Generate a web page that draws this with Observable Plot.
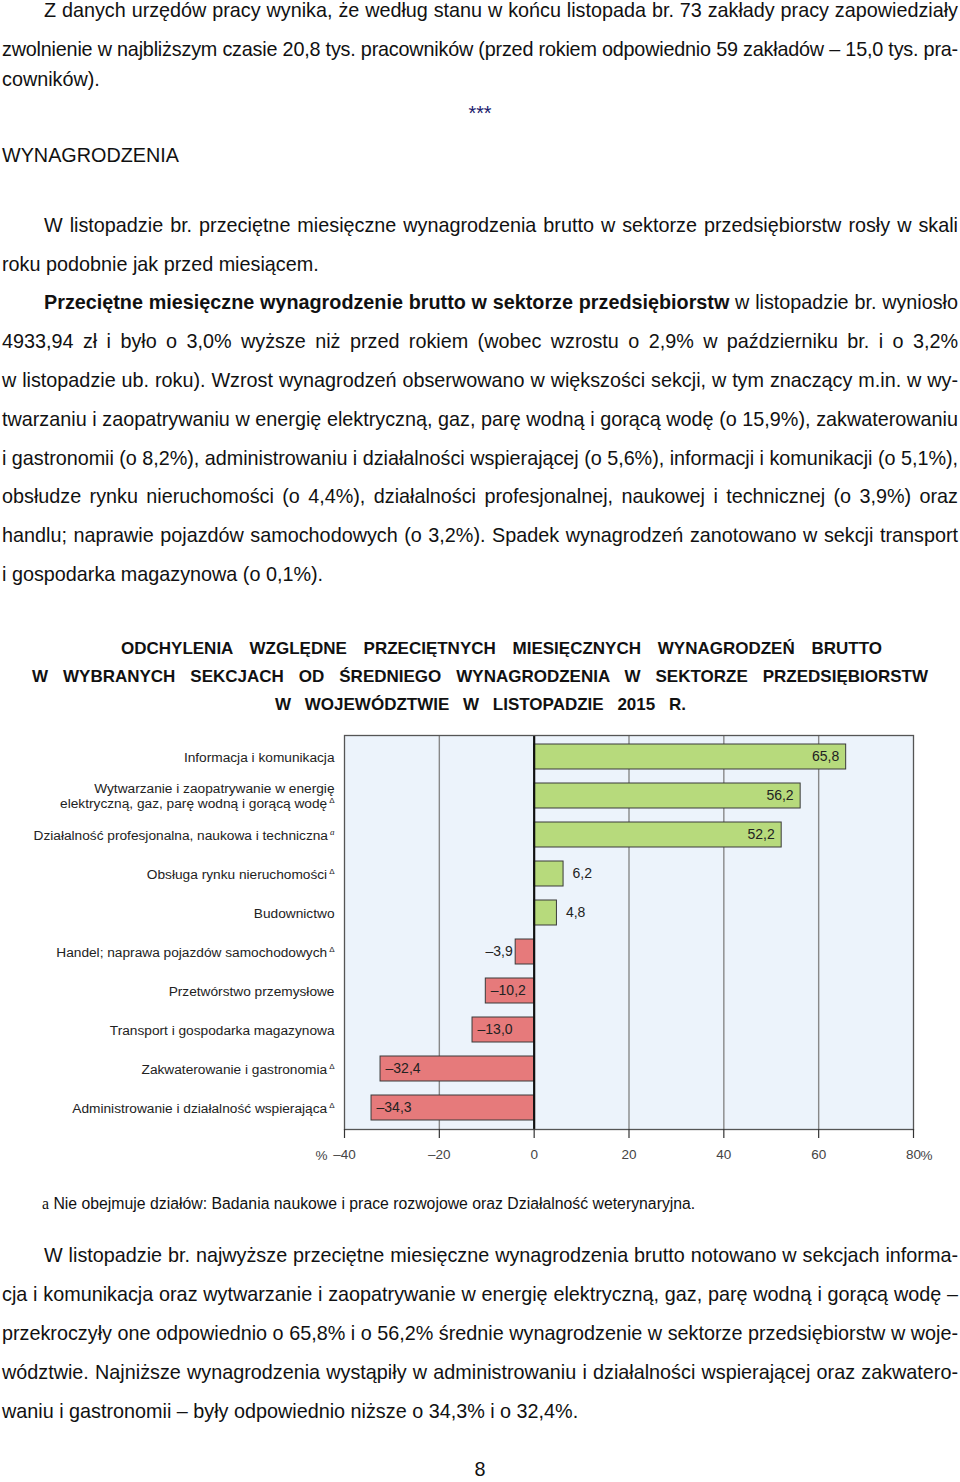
<!DOCTYPE html>
<html><head><meta charset="utf-8">
<script src="https://cdn.jsdelivr.net/npm/d3@7"></script>
<script src="https://cdn.jsdelivr.net/npm/@observablehq/plot@0.6"></script>
<style>
html,body{margin:0;padding:0;background:#fff;}
#page{position:relative;width:960px;height:1482px;overflow:hidden;font-family:"Liberation Sans",Arial,sans-serif;color:#111;}
.ln{position:absolute;white-space:nowrap;font-size:19.8px;line-height:22px;}
.tt{font-size:17px;font-weight:bold;}
.fn{font-size:15.8px;}
#chart{position:absolute;left:0;top:725px;}
</style></head>
<body><div id="page"><div id="chart"></div></div>
<script>
// ---- chart data ----
const categories = [
  "Informacja i komunikacja",
  "Wytwarzanie i zaopatrywanie w energię\nelektryczną, gaz, parę wodną i gorącą wodę",
  "Działalność profesjonalna, naukowa i techniczna",
  "Obsługa rynku nieruchomości",
  "Budownictwo",
  "Handel; naprawa pojazdów samochodowych",
  "Przetwórstwo przemysłowe",
  "Transport i gospodarka magazynowa",
  "Zakwaterowanie i gastronomia",
  "Administrowanie i działalność wspierająca"
];
const markers = ["", "Δ", "a", "Δ", "", "Δ", "", "", "Δ", "Δ"];
const deviations = [65.8, 56.2, 52.2, 6.2, 4.8, -3.9, -10.2, -13.0, -32.4, -34.3];
const xTicks = [-40, -20, 0, 20, 40, 60, 80];
const gridValues = [-20, 20, 40, 60];
const unitLabel = "%";

const titleLines = [
  "ODCHYLENIA WZGLĘDNE PRZECIĘTNYCH MIESIĘCZNYCH WYNAGRODZEŃ BRUTTO",
  "W WYBRANYCH SEKCJACH OD ŚREDNIEGO WYNAGRODZENIA W SEKTORZE PRZEDSIĘBIORSTW",
  "W WOJEWÓDZTWIE W LISTOPADZIE 2015 R."
];

// ---- page text ----
const page = document.getElementById("page");
function addLine(o){
  const div = document.createElement("div");
  div.className = "ln" + (o.cls ? " " + o.cls : "");
  div.style.left = o.x + "px";
  div.style.top = (o.y - 11) + "px";
  if (o.color) div.style.color = o.color;
  div.innerHTML = o.h;
  page.appendChild(div);
  if (o.j){
    const w = div.getBoundingClientRect().width;
    const gap = (o.r || 958) - o.x - w;
    const n = (div.textContent.match(/ /g) || []).length;
    if (gap < 0){
      div.style.letterSpacing = (gap / div.textContent.length) + "px";
    } else if (n) {
      div.style.wordSpacing = (gap / n) + "px";
    }
  }
  if (o.c){
    const w = div.getBoundingClientRect().width;
    div.style.left = (o.c - w / 2) + "px";
  }
}
const lines = [
  {y:10, x:44, j:1, h:"Z danych urzędów pracy wynika, że według stanu w końcu listopada br. 73 zakłady pracy zapowiedziały"},
  {y:49, x:2, j:1, h:"zwolnienie w najbliższym czasie 20,8 tys. pracowników (przed rokiem odpowiednio 59 zakładów – 15,0 tys. pra-"},
  {y:79, x:2, h:"cowników)."},
  {y:113, c:480, x:0, h:"***", color:"#1b1b6e"},
  {y:155, x:2, h:"WYNAGRODZENIA"},
  {y:225, x:44, j:1, h:"W listopadzie br. przeciętne miesięczne wynagrodzenia brutto w sektorze przedsiębiorstw rosły w skali"},
  {y:264, x:2, h:"roku podobnie jak przed miesiącem."},
  {y:302, x:44, j:1, h:"<b>Przeciętne miesięczne wynagrodzenie brutto w sektorze przedsiębiorstw</b> w listopadzie br. wyniosło"},
  {y:341, x:2, j:1, h:"4933,94 zł i było o 3,0% wyższe niż przed rokiem (wobec wzrostu o 2,9% w październiku br. i o 3,2%"},
  {y:380, x:2, j:1, h:"w listopadzie ub. roku). Wzrost wynagrodzeń obserwowano w większości sekcji, w tym znaczący m.in. w wy-"},
  {y:419, x:2, j:1, h:"twarzaniu i zaopatrywaniu w energię elektryczną, gaz, parę wodną i gorącą wodę (o 15,9%), zakwaterowaniu"},
  {y:458, x:2, j:1, h:"i gastronomii (o 8,2%), administrowaniu i działalności wspierającej (o 5,6%), informacji i komunikacji (o 5,1%),"},
  {y:496, x:2, j:1, h:"obsłudze rynku nieruchomości (o 4,4%), działalności profesjonalnej, naukowej i technicznej (o 3,9%) oraz"},
  {y:535, x:2, j:1, h:"handlu; naprawie pojazdów samochodowych (o 3,2%). Spadek wynagrodzeń zanotowano w sekcji transport"},
  {y:574, x:2, h:"i gospodarka magazynowa (o 0,1%)."},
  {y:649, x:121, r:882, j:1, cls:"tt", h:titleLines[0]},
  {y:677, x:32, r:928, j:1, cls:"tt", h:titleLines[1]},
  {y:705, x:275, r:686, j:1, cls:"tt", h:titleLines[2]},
  {y:1204, x:42, cls:"fn", h:"<span style='font-family:\"Liberation Serif\",serif'>a</span> Nie obejmuje działów: Badania naukowe i prace rozwojowe oraz Działalność weterynaryjna."},
  {y:1255, x:44, j:1, h:"W listopadzie br. najwyższe przeciętne miesięczne wynagrodzenia brutto notowano w sekcjach informa-"},
  {y:1294, x:2, j:1, h:"cja i komunikacja oraz wytwarzanie i zaopatrywanie w energię elektryczną, gaz, parę wodną i gorącą wodę –"},
  {y:1333, x:2, j:1, h:"przekroczyły one odpowiednio o 65,8% i o 56,2% średnie wynagrodzenie w sektorze przedsiębiorstw w woje-"},
  {y:1372, x:2, j:1, h:"wództwie. Najniższe wynagrodzenia wystąpiły w administrowaniu i działalności wspierającej oraz zakwatero-"},
  {y:1411, x:2, h:"waniu i gastronomii – były odpowiednio niższe o 34,3% i o 32,4%."},
  {y:1469, c:480, x:0, h:"8"}
];
lines.forEach(addLine);

// ---- chart ----
const data = categories.map((c, i) => ({cat: c, value: deviations[i], marker: markers[i]}));
const fmt = v => (v < 0 ? "–" : "") + Math.abs(v).toFixed(1).replace(".", ",");
const tickFmt = v => (v < 0 ? "–" : "") + Math.abs(v);
const green = "#b7da7c", red = "#e67a7b";
const font = "'Liberation Sans', Arial, sans-serif";

const chart = Plot.plot({
  width: 960, height: 450,
  marginLeft: 344, marginRight: 47, marginTop: 10, marginBottom: 46,
  style: {fontFamily: font, fontSize: "13.7px", color: "#222", background: "transparent", overflow: "visible"},
  x: {domain: [-40, 80]},
  y: {domain: categories, paddingInner: 0.36, paddingOuter: 0.18},
  marks: [
    Plot.frame({fill: "#ecf3fb"}),
    Plot.ruleX(gridValues, {stroke: "#888", strokeWidth: 1.4}),
    Plot.barX(data, {x: "value", y: "cat", fill: d => d.value > 0 ? green : red, stroke: "#3a3a3a", strokeWidth: 1}),
    Plot.ruleX([0], {stroke: "#111", strokeWidth: 2.2}),
    Plot.frame({stroke: "#555", strokeWidth: 1.3}),
    Plot.text(data.filter(d => d.value >= 10), {x: "value", y: "cat", text: d => fmt(d.value), textAnchor: "end", dx: -7, fontSize: 14, fill: "#222"}),
    Plot.text(data.filter(d => d.value > 0 && d.value < 10), {x: "value", y: "cat", text: d => fmt(d.value), textAnchor: "start", dx: 9, fontSize: 14, fill: "#222"}),
    Plot.text(data.filter(d => d.value <= -10), {x: "value", y: "cat", text: d => fmt(d.value), textAnchor: "start", dx: 5, fontSize: 14, fill: "#222"}),
    Plot.text(data.filter(d => d.value < 0 && d.value > -10), {x: "value", y: "cat", text: d => fmt(d.value), textAnchor: "end", dx: -3, fontSize: 14, fill: "#222"}),
    Plot.axisY({label: null, tickSize: 0, tickPadding: 10, fontSize: 13.7, lineHeight: 1.1, fill: "#222", tickFormat: d => d}),
    Plot.axisX({label: null, ticks: xTicks, tickSize: 9, tickPadding: 11, tickFormat: tickFmt, fontSize: 13.5, stroke: "#333", fill: "#444", strokeWidth: 1.2}),
    Plot.text([xTicks[0]], {x: d => d, frameAnchor: "bottom", dy: 30, dx: -17, textAnchor: "end", text: () => unitLabel, fontSize: 13.5, fill: "#444"}),
    Plot.text([xTicks[xTicks.length - 1]], {x: d => d, frameAnchor: "bottom", dy: 30, dx: 7, textAnchor: "start", text: () => unitLabel, fontSize: 13.5, fill: "#444"})
  ]
});
document.getElementById("chart").appendChild(chart);

// superscript markers after the section names
const markerByName = new Map(categories.map((c, i) => [c.replace("\n", ""), markers[i]]));
d3.select(chart).selectAll('g[aria-label="y-axis tick label"] text').each(function(){
  const m = markerByName.get(this.textContent);
  if (!m) return;
  const t = d3.select(this).append("tspan").text(m).attr("dx", 2).attr("dy", -5);
  if (m === "a") t.attr("font-family", "'Liberation Serif', serif").attr("font-style", "italic").attr("font-size", 9);
  else t.attr("font-size", 8);
});
</script>
</body></html>
